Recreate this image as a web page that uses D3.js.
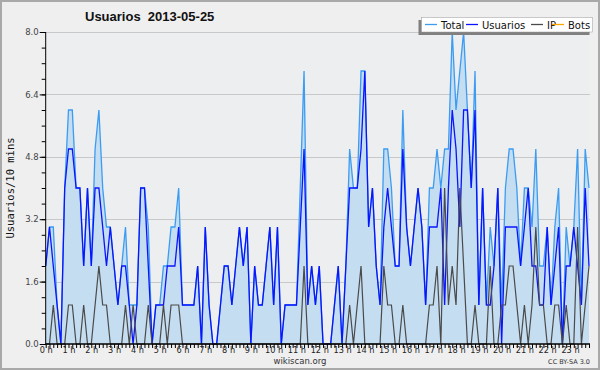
<!DOCTYPE html>
<html>
<head>
<meta charset="utf-8">
<script src="https://cdn.jsdelivr.net/npm/d3@7"></script>
<style>
html,body{margin:0;padding:0;background:#efefef;}
svg{display:block;}
</style>
</head>
<body>
<svg id="c" width="600" height="370"></svg>
<script>
// 144 ten-minute intervals (0 h .. 23 h 50)
const total = [2,3,3,1,0,4,6,6,4,4,2,4,2,5,6,4,3,3,2,1,2,3,1,1,1,4,4,3,0,1,1,2,2,3,3,4,
1,1,1,1,2,0,3,1,0,0,1,2,2,1,2,3,2,3,0,2,1,1,2,3,1,3,0,1,1,1,1,4,
7,1,2,1,2,0,0,0,1,2,0,2,5,4,4,7,7,3,4,2,1,5,5,4,2,2,6,3,2,3,4,3,1,4,
4,5,4,5,5,8,6,7,8,6,4,7,1,4,1,3,2,4,1,4,5,5,4,2,4,4,3,5,2,2,3,1,3,4,0,3,2,3,5,1,5,4];
const usuarios = [2,3,2,1,0,4,5,5,4,4,2,4,2,4,4,3,2,3,2,1,2,2,1,0,1,4,4,2,0,1,1,1,2,2,2,3,
1,1,1,1,2,0,3,1,0,0,1,2,2,1,2,3,2,3,0,2,1,1,2,3,1,3,0,1,1,1,1,3,
5,1,2,1,2,0,0,0,1,2,0,2,4,4,4,5,7,3,4,2,1,3,4,3,2,2,5,3,2,3,4,3,1,3,
3,3,4,1,4,6,5,3,6,6,4,6,1,4,1,1,2,4,0,3,3,3,3,2,3,4,2,2,1,1,3,1,2,3,0,2,2,3,2,1,4,2];
const ip = [0,0,1,0,0,0,1,1,0,0,1,0,0,1,2,1,1,0,0,0,0,1,0,1,0,0,0,1,0,0,0,1,0,1,1,1,
0,0,0,0,0,0,0,0,0,0,0,0,0,0,0,0,0,0,0,0,0,0,0,0,0,0,0,0,0,0,0,0,
2,0,0,0,0,0,0,0,0,0,0,0,1,0,1,2,0,0,0,0,0,2,1,1,0,0,1,0,0,0,0,0,0,1,
1,2,0,4,1,2,1,4,2,0,0,1,0,0,0,2,0,0,1,1,2,2,1,0,1,0,1,3,1,1,0,0,1,1,0,1,0,0,3,0,1,2];
const bots = new Array(144).fill(0);
const yTicks = [0, 1.6, 3.2, 4.8, 6.4, 8.0];
const hourLabels = d3.range(24).map(h => h + " h");
const legendItems = ["Total", "Usuarios", "IP", "Bots"];

const W = 600, H = 370;
const L = 45.7, R = 589, TOP = 32, B = 344;
const svg = d3.select("#c");

// outer frame
svg.append("rect").attr("x",1).attr("y",1).attr("width",W-2).attr("height",H-2)
  .attr("fill","#efefef").attr("stroke","#a9a9a9").attr("stroke-width",2);
svg.append("rect").attr("x",L).attr("y",TOP).attr("width",R-L).attr("height",B-TOP).attr("fill","#eceef0");

const x = d3.scaleLinear().domain([0,143]).range([L,R]);
const y = d3.scaleLinear().domain([0,8]).range([B,TOP]);
const idx = d3.range(144);

// grid
svg.append("g").selectAll("line").data(yTicks.filter(v=>v>0)).join("line")
  .attr("x1",L).attr("x2",R+1).attr("y1",d=>Math.round(y(d))+0.5).attr("y2",d=>Math.round(y(d))+0.5)
  .attr("stroke","#c8c8c8").attr("stroke-width",1);

// filled area under Total
const areaGen = d3.area().x(i=>x(i)).y0(y(0)).y1(i=>y(total[i]));
svg.append("path").attr("d", areaGen(idx)).attr("fill","#c5ddf0").attr("stroke","none");

const lineGen = arr => d3.line().x(i=>x(i)).y(i=>y(arr[i]));
svg.append("path").attr("d", lineGen(total)(idx))
  .attr("fill","none").attr("stroke","#3b9cf2").attr("stroke-width",1.3);
svg.append("path").attr("d", lineGen(usuarios)(idx))
  .attr("fill","none").attr("stroke","#0a14ff").attr("stroke-width",1.3);
svg.append("path").attr("d", lineGen(ip)(idx))
  .attr("fill","none").attr("stroke","#4a4a4a").attr("stroke-width",1.2);

// y axis
const yAxisMinor = d3.axisLeft(y).tickValues(d3.range(0,8.01,0.4)).tickSize(4).tickFormat("");
const gyMinor = svg.append("g").attr("transform",`translate(${L},0)`).call(yAxisMinor);
gyMinor.select(".domain").remove();
const yAxis = d3.axisLeft(y).tickValues(yTicks).tickSize(6).tickPadding(1).tickFormat(d3.format(".1f"));
const gy = svg.append("g").attr("transform",`translate(${L},0)`).call(yAxis);
gy.select(".domain").attr("d",`M0,${TOP}V${B}`).attr("stroke","#000");
gy.selectAll("text").attr("font-family","DejaVu Sans").attr("font-size",8.5).attr("fill","#444");
svg.selectAll(".tick line").attr("stroke","#000");

// x axis
const xAxis = d3.axisBottom(x).tickValues(idx).tickSize(4)
  .tickFormat(i => i % 6 === 0 ? hourLabels[i/6] : "");
const gx = svg.append("g").attr("transform",`translate(0,${B})`).call(xAxis);
gx.select(".domain").attr("d",`M${L},0H${R+1}`).attr("stroke","#000").attr("stroke-width",1.5);
gx.selectAll(".tick line").attr("stroke","#000");
gx.selectAll("text").attr("font-family","DejaVu Sans").attr("font-size",8.2).attr("fill","#222")
  .attr("y",9).attr("dy",0);

// titles
svg.append("text").attr("x",85).attr("y",21).text("Usuarios\u00a0\u00a02013-05-25")
  .attr("font-family","Liberation Sans").attr("font-weight","bold").attr("font-size",13).attr("fill","#111");
svg.append("text").attr("transform","translate(14,188) rotate(-90)").attr("text-anchor","middle")
  .text("Usuarios/10 mins").attr("font-family","DejaVu Sans Mono").attr("font-size",10.5).attr("fill","#111");
svg.append("text").attr("x",300).attr("y",364).attr("text-anchor","middle").text("wikiscan.org")
  .attr("font-family","DejaVu Sans").attr("font-size",8.5).attr("fill","#333");
svg.append("text").attr("x",590).attr("y",364).attr("text-anchor","end").text("CC BY-SA 3.0")
  .attr("font-family","DejaVu Sans").attr("font-size",6.5).attr("fill","#333");

// legend
const lg = svg.append("g");
lg.append("rect").attr("x",418.5).attr("y",20).attr("width",171).attr("height",15).attr("fill","#808080");
lg.append("rect").attr("x",421.5).attr("y",17.5).attr("width",171).attr("height",14.5).attr("fill","#fff").attr("stroke","#999").attr("stroke-width",0.5);
const colors = ["#3b9cf2","#0a14ff","#4a4a4a","#ffa500"];
const lx = [425, 466, 531, 552];
legendItems.forEach((name,k)=>{
  lg.append("line").attr("x1",lx[k]).attr("x2",lx[k]+12).attr("y1",24.5).attr("y2",24.5)
    .attr("stroke",colors[k]).attr("stroke-width",1.3);
  lg.append("text").attr("x",lx[k]+16).attr("y",28.5).text(name)
    .attr("font-family","DejaVu Sans").attr("font-size",10).attr("fill","#111");
});
</script>
</body>
</html>
